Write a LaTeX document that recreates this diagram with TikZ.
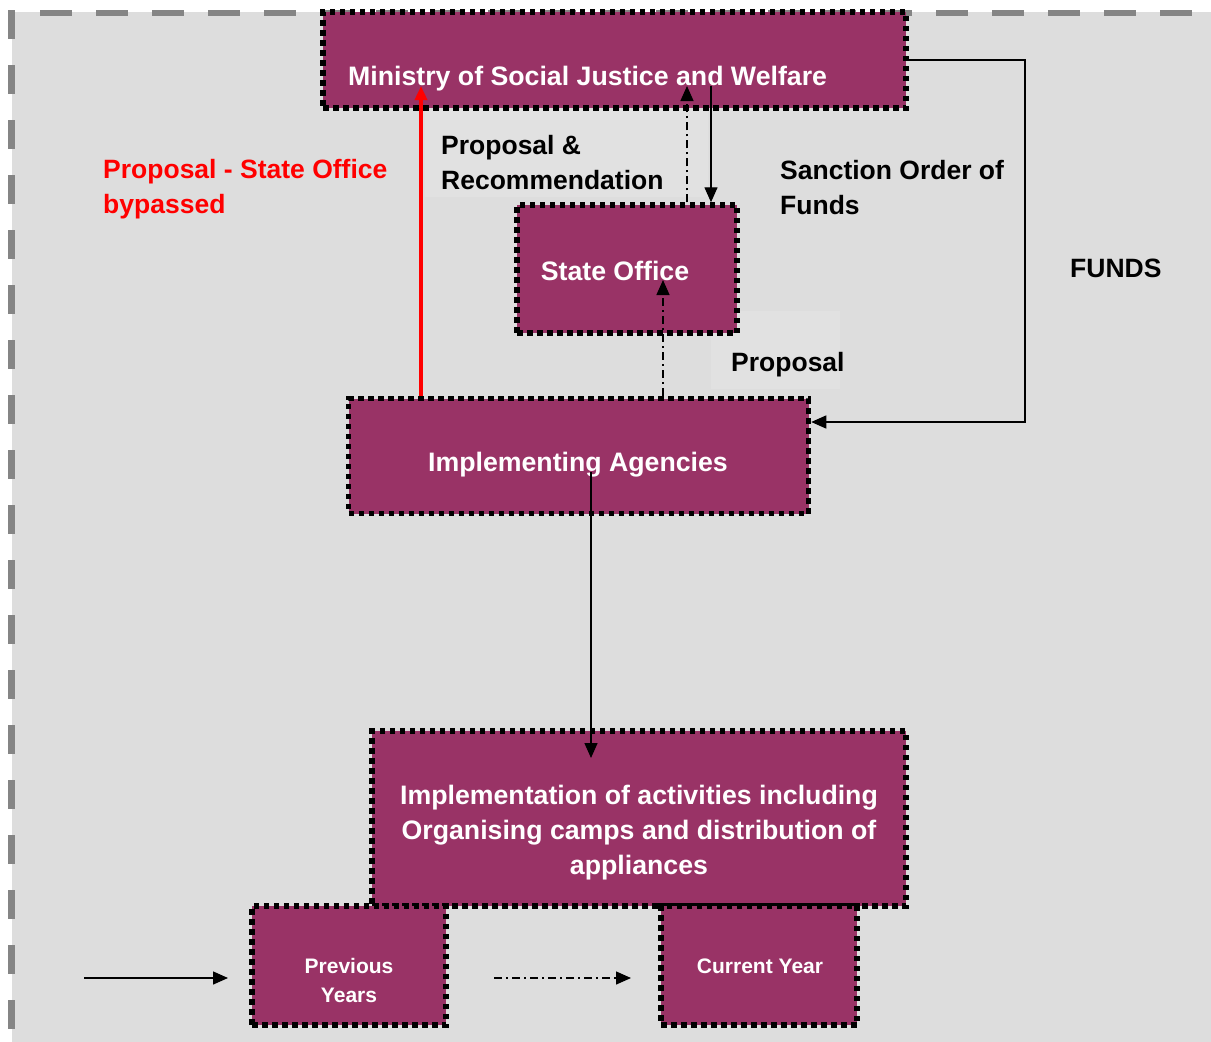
\documentclass[tikz,border=0pt]{standalone}
\usepackage{fontspec}
\setmainfont{Liberation Sans}
\usetikzlibrary{arrows.meta}
\definecolor{plum}{HTML}{993366}
\definecolor{panel}{HTML}{DDDDDD}
\definecolor{dashgrey}{HTML}{858585}
\definecolor{notebg}{HTML}{E1E1E1}
\begin{document}
\begin{tikzpicture}[x={(1pt,0)}, y={(0,-1pt)},
  box/.style={rectangle, draw=black, fill=plum, line width=5.5pt,
    dash pattern=on 5.5pt off 4.5pt, inner sep=0pt},
  boxtext/.style={text=white, font=\fontsize{26.7}{35}\selectfont\bfseries,
    inner sep=0pt, align=center},
  smalltext/.style={text=white, font=\fontsize{21}{29}\selectfont\bfseries,
    inner sep=0pt, align=center},
  note/.style={text=black, font=\fontsize{26.5}{35}\selectfont\bfseries,
    inner sep=0pt, align=left, anchor=west},
  flow/.style={line width=1.4pt, -{Triangle[length=15pt,width=13pt]}},
  dashdot/.style={flow, dash pattern=on 8pt off 4pt on 2pt off 4pt},
  bypass/.style={red, line width=4pt, -{Triangle[length=14pt,width=12pt]}},
]
\useasboundingbox (0,0) rectangle (1211,1042);
\fill[white] (0,0) rectangle (1211,1042);

% panel with dashed frame
\fill[panel] (12,12) rectangle (1211,1042);
\draw[dashgrey, line width=6pt, dash pattern=on 32pt off 24pt] (40,13) -- (1211,13);
\draw[dashgrey, line width=7pt, dash pattern=on 29pt off 26pt] (11,10) -- (11,1042);

% lighter label backgrounds
\fill[notebg] (425,110) rectangle (708,197);
\fill[notebg] (711,311) rectangle (840,389);

% boxes
\node[box, minimum width=583, minimum height=96] (min) at (614.5,60) {};
\node[box, minimum width=220, minimum height=128] (so) at (627,269) {};
\node[box, minimum width=460, minimum height=115] (ia) at (578.5,456) {};
\node[box, minimum width=534, minimum height=175] (impl) at (639,818.5) {};
\node[box, minimum width=194, minimum height=119] (py) at (349,965.5) {};
\node[box, minimum width=196, minimum height=119] (cy) at (759,965.5) {};

% box texts
\node[boxtext, anchor=west] (mintext) at (348,79) {Ministry of Social Justice and Welfare};
\node[boxtext] (sotext) at (615,271) {State Office};
\node[boxtext] (iatext) at (578,465) {Implementing Agencies};
\node[boxtext] (impltext) at (639,833) {Implementation of activities including\\Organising camps and distribution of\\appliances};
\node[smalltext] (pytext) at (349,980.5) {Previous\\Years};
\node[smalltext] (cytext) at (760,966) {Current Year};

% labels
\node[note, text=red] (bypasstext) at (103,189.5) {Proposal - State Office\\bypassed};
\node[note] (recotext) at (441,163) {Proposal \&\\Recommendation};
\node[note] (sanctext) at (780,188) {Sanction Order of\\Funds};
\node[note] (proptext) at (731,365) {Proposal};
\node[note] (fundstext) at (1070,268) {FUNDS};

% connector end points
\coordinate (bypasstip) at (421,86);
\coordinate (recotip) at (687,86);
\coordinate (sancstart) at (711,86);
\coordinate (proptip) at (663,280);
\coordinate (fundscorner) at (1025,422);
\coordinate (downstart) at (591,472);
\coordinate (downtip) at (591,758);
\coordinate (keysolidA) at (84,978);
\coordinate (keysolidB) at (228,978);
\coordinate (keydashA) at (494,978);
\coordinate (keydashB) at (631,978);

% connectors
\draw[bypass] (bypasstip |- ia.north) -- (bypasstip);
\draw[dashdot] (recotip |- so.north) -- (recotip);
\draw[flow] (sancstart) -- (sancstart |- so.north);
\draw[dashdot] (proptip |- ia.north) -- (proptip);
\draw[flow] (min.east) -| (fundscorner) -- (fundscorner -| ia.east);
\draw[flow] (downstart) -- (downtip);

% key
\draw[flow] (keysolidA) -- (keysolidB);
\draw[dashdot] (keydashA) -- (keydashB);
\end{tikzpicture}
\end{document}
